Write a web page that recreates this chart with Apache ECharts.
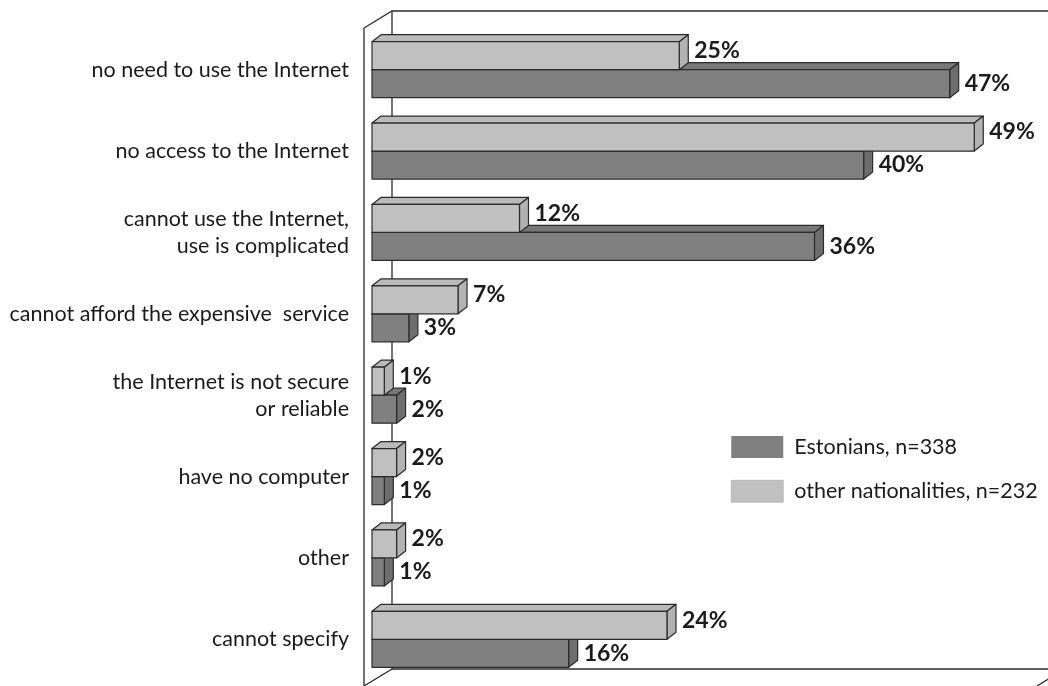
<!DOCTYPE html>
<html>
<head>
<meta charset="utf-8">
<script src="https://cdn.jsdelivr.net/npm/echarts@6/dist/echarts.min.js"></script>
<style>html,body{margin:0;padding:0;background:#fff;}#c{width:1048px;height:686px;}</style>
</head>
<body>
<div id="c"></div>
<script>
const categories = [
  'no need to use the Internet',
  'no access to the Internet',
  'cannot use the Internet,\nuse is complicated',
  'cannot afford the expensive  service',
  'the Internet is not secure\nor reliable',
  'have no computer',
  'other',
  'cannot specify'
];
const estonians = [47, 40, 36, 3, 2, 1, 1, 16];
const others = [25, 49, 12, 7, 1, 2, 2, 24];
const seriesNames = ['Estonians, n=338', 'other nationalities, n=232'];

const FONT = 'Lato, "DejaVu Sans", sans-serif';
const EDGE = '#2b2b2b';
const DEPTH_X = 9, DEPTH_Y = -7;
const BAR_FRAC = 28 / 81.4;

function makeRender(isLight, cols) {
  return function (params, api) {
    const val = api.value(0);
    const cat = api.value(1);
    const p0 = api.coord([0, cat]);
    const p1 = api.coord([val, cat]);
    const h = api.size([0, 1])[1] * BAR_FRAC;
    const x0 = p0[0], x1 = p1[0];
    const y0 = isLight ? p0[1] - h : p0[1];
    const y1 = y0 + h;
    const dx = DEPTH_X, dy = DEPTH_Y;
    const st = { stroke: EDGE, lineWidth: 1.2, lineJoin: 'round' };
    return {
      type: 'group',
      children: [
        { type: 'polygon', shape: { points: [[x0, y0], [x0 + dx, y0 + dy], [x1 + dx, y0 + dy], [x1, y0]] },
          style: Object.assign({ fill: cols.top }, st) },
        { type: 'polygon', shape: { points: [[x1, y0], [x1 + dx, y0 + dy], [x1 + dx, y1 + dy], [x1, y1]] },
          style: Object.assign({ fill: cols.side }, st) },
        { type: 'polygon', shape: { points: [[x0, y0], [x1, y0], [x1, y1], [x0, y1]] },
          style: Object.assign({ fill: cols.front }, st) },
        { type: 'text', x: x1 + 15, y: (y0 + y1) / 2 + (isLight ? -5 : 0),
          style: { text: Math.round(val) + '%', fill: '#1a1a1a', font: 'bold 23px ' + FONT,
                   verticalAlign: 'middle', align: 'left' } }
      ]
    };
  };
}

const chart = echarts.init(document.getElementById('c'), null, { renderer: 'canvas' });
const darkCols = { front: '#808080', top: '#787878', side: '#6e6e6e' };
const lightCols = { front: '#c0c0c0', top: '#bababa', side: '#b2b2b2' };

chart.setOption({
  animation: false,
  backgroundColor: '#ffffff',
  grid: { left: 372, top: 29, width: 680, height: 651 },
  xAxis: { type: 'value', min: 0, max: 55, show: false },
  yAxis: {
    type: 'category', data: categories, inverse: true,
    axisLine: { show: false }, axisTick: { show: false }, splitLine: { show: false },
    axisLabel: { fontFamily: FONT, fontSize: 21.5, color: '#1a1a1a', margin: 23,
                 lineHeight: 27, align: 'right', padding: [0, 0, 6, 0] }
  },
  legend: {
    orient: 'vertical', left: 726, top: 431, itemWidth: 52, itemHeight: 22, itemGap: 22,
    textStyle: { fontFamily: FONT, fontSize: 21.5, color: '#1a1a1a', padding: [0, 0, 0, 6] },
    data: [
      { name: seriesNames[0], icon: 'rect', itemStyle: { color: darkCols.front, borderWidth: 0 } },
      { name: seriesNames[1], icon: 'rect', itemStyle: { color: lightCols.front, borderColor: '#999', borderWidth: 0.5 } }
    ]
  },
  graphic: [
    { type: 'polyline', z: -1, shape: { points: [[364, 690], [364, 28], [392, 11], [1060, 11]] },
      style: { stroke: EDGE, lineWidth: 1.3, fill: null } },
    { type: 'polyline', z: -1, shape: { points: [[392, 11], [392, 669], [1070, 669]] },
      style: { stroke: EDGE, lineWidth: 1.3, fill: null } },
    { type: 'line', z: -1, shape: { x1: 392, y1: 669, x2: 364, y2: 686 },
      style: { stroke: EDGE, lineWidth: 1.3 } },
    { type: 'line', z: -1, shape: { x1: 1065, y1: 669, x2: 1037, y2: 686 },
      style: { stroke: EDGE, lineWidth: 1.3 } }
  ],
  series: [
    { name: seriesNames[0], type: 'custom', z: 5, itemStyle: { color: darkCols.front },
      encode: { x: 0, y: 1 }, renderItem: makeRender(false, darkCols),
      data: estonians.map((v, i) => [v, i]) },
    { name: seriesNames[1], type: 'custom', z: 5, itemStyle: { color: lightCols.front },
      encode: { x: 0, y: 1 }, renderItem: makeRender(true, lightCols),
      data: others.map((v, i) => [v, i]) }
  ]
});
</script>
</body>
</html>
